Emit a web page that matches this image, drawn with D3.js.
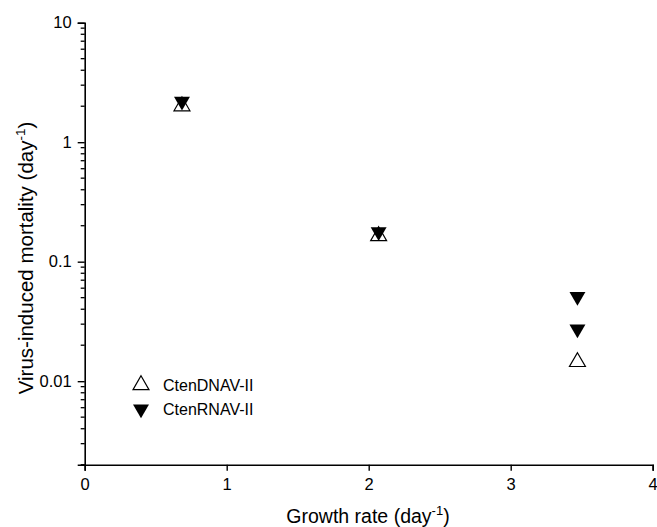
<!DOCTYPE html>
<html>
  <head>
    <script src="https://d3js.org/d3.v7.min.js"></script>
    <style>
      body { margin: 0; background: #fff; }
      svg { display: block; }
      text { font-family: "Liberation Sans", Arial, sans-serif; fill: #000; }
    </style>
  </head>
  <body>
    <svg width="657" height="527"></svg>
    <script>
      // growth rate (day^-1) per culture
      const dnavGrowth = [0.685, 2.07, 3.47];
      const dnavMortality = [2.0, 0.164, 0.0145];
      const rnavGrowth = [0.685, 2.07, 3.47, 3.47];
      const rnavMortality = [2.2, 0.178, 0.051, 0.0273];
      const xTicks = [0, 1, 2, 3, 4];
      const yTicks = [0.01, 0.1, 1, 10];

      const svg = d3.select("svg");
      const x = d3.scaleLinear().domain([0, 4]).range([84.7, 652.7]);
      const y = d3.scaleLog().domain([0.002, 10]).range([464.7, 22.7]);

      const minor = [];
      [0.001, 0.01, 0.1, 1].forEach(d => {
        for (let k = 2; k <= 9; k++) {
          const v = d * k;
          if (v >= 0.002 && v <= 10) minor.push(v);
        }
      });

      const yAxis = svg.append("g")
        .attr("transform", "translate(84.7,0)")
        .call(d3.axisLeft(y).tickValues(yTicks).tickFormat(d3.format("~g")).tickSize(7).tickPadding(6));
      yAxis.selectAll(".minor")
        .data(minor)
        .enter().append("line")
        .attr("class", "minor")
        .attr("x1", -4).attr("x2", 0)
        .attr("y1", d => y(d)).attr("y2", d => y(d))
        .attr("stroke", "#000").attr("stroke-width", 1.3);

      const xAxis = svg.append("g")
        .attr("transform", "translate(0,464.7)")
        .call(d3.axisBottom(x).tickValues(xTicks).tickFormat(d3.format("d")).tickSize(6).tickPadding(8));

      svg.selectAll(".domain").attr("stroke-width", 1.6).attr("stroke", "#000");
      svg.selectAll(".tick line").attr("stroke-width", 1.4).attr("stroke", "#000");
      svg.selectAll(".tick text").attr("font-size", 16.5).attr("font-family", "Liberation Sans, Arial, sans-serif");

      const tri = d3.symbol().type(d3.symbolTriangle).size(110);

      svg.append("g").selectAll("path")
        .data(dnavGrowth.map((g, i) => [g, dnavMortality[i]]))
        .enter().append("path")
        .attr("d", tri)
        .attr("transform", d => `translate(${x(d[0])},${y(d[1])})`)
        .attr("fill", "none").attr("stroke", "#000").attr("stroke-width", 1.2);

      svg.append("g").selectAll("path")
        .data(rnavGrowth.map((g, i) => [g, rnavMortality[i]]))
        .enter().append("path")
        .attr("d", tri)
        .attr("transform", d => `translate(${x(d[0])},${y(d[1])}) rotate(180)`)
        .attr("fill", "#000");

      // legend
      const legend = svg.append("g").attr("transform", "translate(141,385)");
      legend.append("path").attr("d", tri)
        .attr("fill", "none").attr("stroke", "#000").attr("stroke-width", 1.2);
      legend.append("text").attr("x", 22).attr("y", 6).attr("font-size", 16).text("CtenDNAV-II");
      legend.append("path").attr("d", tri)
        .attr("transform", "translate(0,24) rotate(180)").attr("fill", "#000");
      legend.append("text").attr("x", 22).attr("y", 30).attr("font-size", 16).text("CtenRNAV-II");

      // axis titles
      const xt = svg.append("text").attr("x", 368).attr("y", 523)
        .attr("text-anchor", "middle").attr("font-size", 19.5);
      xt.append("tspan").text("Growth rate (day");
      xt.append("tspan").attr("dy", -8).attr("font-size", 13).text("-1");
      xt.append("tspan").attr("dy", 8).text(")");

      const yt = svg.append("text")
        .attr("transform", "translate(33,258) rotate(-90)")
        .attr("text-anchor", "middle").attr("font-size", 20.5);
      yt.append("tspan").text("Virus-induced mortality (day");
      yt.append("tspan").attr("dy", -8).attr("font-size", 13.5).text("-1");
      yt.append("tspan").attr("dy", 8).text(")");
    </script>
  </body>
</html>
